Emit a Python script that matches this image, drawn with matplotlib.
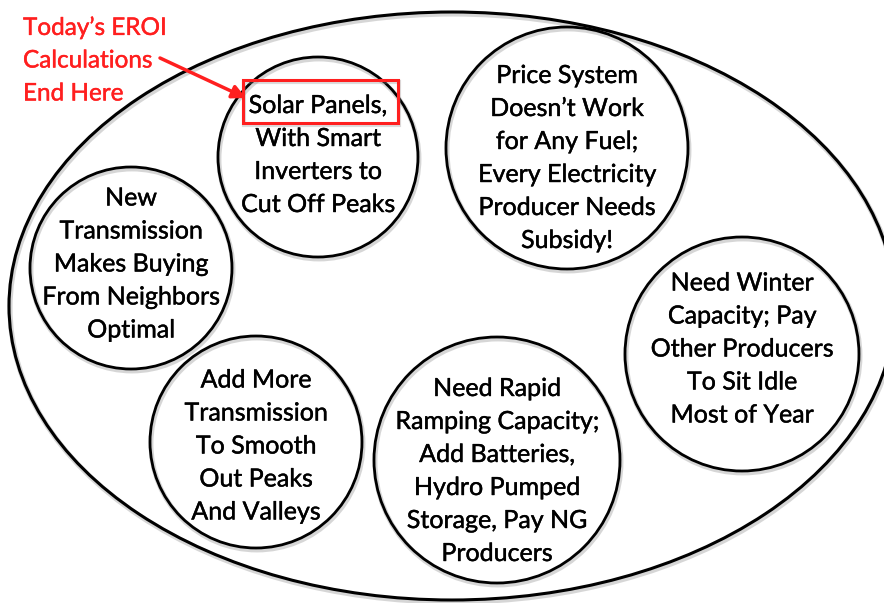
import matplotlib.pyplot as plt
from matplotlib.patches import Ellipse, Rectangle
import matplotlib.patheffects as pe

plt.rcParams['font.family'] = ['Lato', 'DejaVu Sans']

# bubble texts
labels = [
    ["Solar Panels,", "With Smart", "Inverters to", "Cut Off Peaks"],
    ["Price System", "Doesn\u2019t Work", "for Any Fuel;", "Every Electricity", "Producer Needs", "Subsidy!"],
    ["New", "Transmission", "Makes Buying", "From Neighbors", "Optimal"],
    ["Need Winter", "Capacity; Pay", "Other Producers", "To Sit Idle", "Most of Year"],
    ["Add More", "Transmission", "To Smooth", "Out Peaks", "And Valleys"],
    ["Need Rapid", "Ramping Capacity;", "Add Batteries,", "Hydro Pumped", "Storage, Pay NG", "Producers"],
]
note = ["Today\u2019s EROI", "Calculations", "End Here"]

# layout (pixel coords of the 884x603 picture)
centers = [(318, 157), (567, 148), (131, 268), (742, 354), (256, 442), (497, 460)]
radii = [100, 121, 101, 117, 106, 123]
text_y = [155, 158, 264, 349, 446, 471]
line_gap = 33
red = '#ff1f1f'

fig = plt.figure(figsize=(8.84, 6.03), dpi=100)
ax = fig.add_axes([0, 0, 1, 1])
ax.set_xlim(0, 884)
ax.set_ylim(603, 0)
ax.axis('off')


def ring(xy, w, h, lw, color='black'):
    # soft drop shadow, then the outline
    ax.add_patch(Ellipse((xy[0] + 1, xy[1] + 2), w, h, fill=False, lw=lw + 1.5, ec='0.55', alpha=0.35))
    ax.add_patch(Ellipse(xy, w, h, fill=False, lw=lw, ec=color))


def heavy(color):
    return [pe.withStroke(linewidth=0.3, foreground=color)]


ring((452, 306), 886, 588, 2.2)

for (cx, cy), r, ty, lines in zip(centers, radii, text_y, labels):
    ring((cx, cy), 2 * r, 2 * r, 2.0)
    n = len(lines)
    for i, s in enumerate(lines):
        ax.text(cx, ty + (i - (n - 1) / 2) * line_gap, s, ha='center', va='center',
                fontsize=18, color='black', path_effects=heavy('black'))

# red highlight box + arrow
ax.add_patch(Rectangle((244, 82), 155, 43, fill=False, lw=3.0, ec='0.55', alpha=0.3))
ax.add_patch(Rectangle((243, 80), 155, 43, fill=False, lw=2.2, ec=red))

for i, s in enumerate(note):
    ax.text(23, 28 + i * line_gap, s, ha='left', va='center', fontsize=17.5, color=red,
            path_effects=heavy(red))

ax.annotate('', xy=(246, 98), xytext=(160, 58),
            arrowprops=dict(arrowstyle='-|>', color=red, lw=2.5, mutation_scale=20,
                            shrinkA=0, shrinkB=0))

fig.savefig('out.png', dpi=100)
